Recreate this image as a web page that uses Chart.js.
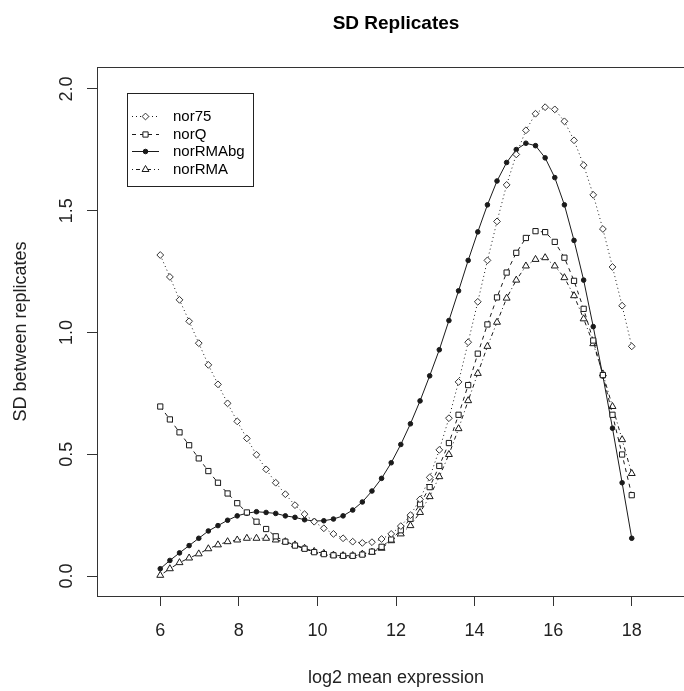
<!DOCTYPE html>
<html>
<head>
<meta charset="utf-8">
<script src="https://cdn.jsdelivr.net/npm/chart.js@4.4.1/dist/chart.umd.min.js"></script>
<style>
  html, body { margin: 0; padding: 0; background: #fff; overflow: hidden; }
  #wrap { position: absolute; left: 0; top: 0; width: 700px; height: 691px; }
</style>
</head>
<body>
<div id="wrap"><canvas id="chart"></canvas></div>
<script>
// x grid: 50 points between 6 and 18
const xValues = [6, 6.245, 6.490, 6.735, 6.980, 7.224, 7.469, 7.714, 7.959, 8.204,
  8.449, 8.694, 8.939, 9.184, 9.429, 9.673, 9.918, 10.163, 10.408, 10.653,
  10.898, 11.143, 11.388, 11.633, 11.878, 12.122, 12.367, 12.612, 12.857, 13.102,
  13.347, 13.592, 13.837, 14.082, 14.327, 14.571, 14.816, 15.061, 15.306, 15.551,
  15.796, 16.041, 16.286, 16.531, 16.776, 17.020, 17.265, 17.510, 17.755, 18];

const nor75 = [1.318, 1.228, 1.134, 1.046, 0.956, 0.867, 0.787, 0.709, 0.635, 0.565,
  0.498, 0.438, 0.383, 0.336, 0.291, 0.254, 0.223, 0.196, 0.173, 0.155,
  0.141, 0.136, 0.139, 0.152, 0.173, 0.205, 0.250, 0.315, 0.405, 0.518,
  0.648, 0.797, 0.960, 1.126, 1.296, 1.456, 1.606, 1.731, 1.830, 1.898,
  1.925, 1.916, 1.867, 1.789, 1.687, 1.565, 1.425, 1.269, 1.110, 0.943];

const norQ = [0.696, 0.643, 0.590, 0.537, 0.483, 0.431, 0.383, 0.339, 0.299, 0.261,
  0.223, 0.193, 0.163, 0.141, 0.125, 0.112, 0.098, 0.090, 0.085, 0.083,
  0.083, 0.088, 0.100, 0.120, 0.150, 0.188, 0.235, 0.295, 0.365, 0.452,
  0.546, 0.662, 0.784, 0.913, 1.033, 1.144, 1.246, 1.327, 1.388, 1.416,
  1.412, 1.372, 1.307, 1.212, 1.097, 0.967, 0.825, 0.662, 0.499, 0.332];

const norRMAbg = [0.030, 0.064, 0.095, 0.125, 0.155, 0.185, 0.207, 0.229, 0.247, 0.258,
  0.264, 0.261, 0.257, 0.247, 0.241, 0.231, 0.226, 0.227, 0.234, 0.247,
  0.271, 0.304, 0.349, 0.401, 0.465, 0.540, 0.625, 0.719, 0.822, 0.929,
  1.049, 1.171, 1.296, 1.413, 1.524, 1.622, 1.698, 1.751, 1.777, 1.767,
  1.717, 1.636, 1.524, 1.378, 1.215, 1.024, 0.821, 0.607, 0.383, 0.155];

const norRMA = [0.003, 0.030, 0.055, 0.074, 0.091, 0.112, 0.128, 0.141, 0.148, 0.155,
  0.155, 0.155, 0.148, 0.141, 0.128, 0.114, 0.101, 0.093, 0.086, 0.084,
  0.084, 0.090, 0.098, 0.114, 0.145, 0.173, 0.207, 0.261, 0.326, 0.408,
  0.499, 0.605, 0.720, 0.832, 0.943, 1.042, 1.141, 1.215, 1.273, 1.300,
  1.307, 1.273, 1.225, 1.151, 1.056, 0.954, 0.830, 0.696, 0.560, 0.421];

const xTicks = [6, 8, 10, 12, 14, 16, 18];
const yTicks = [0, 0.5, 1.0, 1.5, 2.0];

const FONT = '"Liberation Sans", Arial, Helvetica, sans-serif';
const INK = '#1a1a1a';

function pts(ys) {
  return ys.map((y, i) => ({ x: xValues[i], y: y }));
}

// R-style full box around the plot region
const boxPlugin = {
  id: 'box',
  afterDraw(chart) {
    const { ctx, chartArea: a } = chart;
    ctx.save();
    ctx.strokeStyle = '#333';
    ctx.lineWidth = 1;
    ctx.strokeRect(Math.round(a.left) + 0.5, Math.round(a.top) + 0.5,
      Math.round(a.right - a.left), Math.round(a.bottom - a.top));
    ctx.restore();
  }
};

const titlePlugin = {
  id: 'mainTitle',
  afterDraw(chart) {
    const { ctx, chartArea: a } = chart;
    ctx.save();
    ctx.font = 'bold 19px ' + FONT;
    ctx.fillStyle = '#000';
    ctx.textAlign = 'center';
    ctx.textBaseline = 'middle';
    ctx.fillText('SD Replicates', (a.left + a.right) / 2, 24);
    ctx.restore();
  }
};

// legend drawn like R's legend(): line segment with the symbol in the middle
const legendPlugin = {
  id: 'rLegend',
  afterDraw(chart) {
    const ctx = chart.ctx;
    const left = 127, top = 93, w = 126, h = 93;
    ctx.save();
    ctx.fillStyle = '#fff';
    ctx.fillRect(left, top, w, h);
    ctx.strokeStyle = '#222';
    ctx.lineWidth = 1;
    ctx.strokeRect(left + 0.5, top + 0.5, w, h);
    chart.data.datasets.forEach((ds, i) => {
      const y = 116 + i * 17.5;
      ctx.save();
      ctx.strokeStyle = ds.borderColor;
      ctx.lineWidth = 1;
      ctx.setLineDash(ds.borderDash || []);
      ctx.beginPath();
      ctx.moveTo(132, Math.round(y) + 0.5);
      ctx.lineTo(159, Math.round(y) + 0.5);
      ctx.stroke();
      ctx.restore();
      ctx.save();
      ctx.fillStyle = ds.pointBackgroundColor;
      ctx.strokeStyle = ds.pointBorderColor;
      ctx.lineWidth = 1;
      Chart.helpers.drawPoint(ctx, {
        pointStyle: ds.pointStyle, radius: ds.pointRadius, rotation: 0, borderWidth: 1
      }, 145.5, Math.round(y) + 0.5);
      ctx.restore();
      ctx.fillStyle = '#000';
      ctx.font = '15px ' + FONT;
      ctx.textAlign = 'left';
      ctx.textBaseline = 'middle';
      ctx.fillText(ds.label, 173, y + 1);
    });
    ctx.restore();
  }
};

const datasets = [
  {
    label: 'nor75', data: pts(nor75),
    borderColor: INK, borderWidth: 1, borderDash: [1, 3],
    pointStyle: 'rectRot', pointRadius: 3.4,
    pointBorderColor: '#333', pointBackgroundColor: '#fff', pointBorderWidth: 1
  },
  {
    label: 'norQ', data: pts(norQ),
    borderColor: INK, borderWidth: 1, borderDash: [4, 4],
    pointStyle: 'rect', pointRadius: 3.7,
    pointBorderColor: INK, pointBackgroundColor: '#fff', pointBorderWidth: 1
  },
  {
    label: 'norRMAbg', data: pts(norRMAbg),
    borderColor: INK, borderWidth: 1, borderDash: [],
    pointStyle: 'circle', pointRadius: 2.3,
    pointBorderColor: INK, pointBackgroundColor: INK, pointBorderWidth: 1
  },
  {
    label: 'norRMA', data: pts(norRMA),
    borderColor: INK, borderWidth: 1, borderDash: [1, 3, 4, 3],
    pointStyle: 'triangle', pointRadius: 4,
    pointBorderColor: INK, pointBackgroundColor: '#fff', pointBorderWidth: 1
  }
];

new Chart(document.getElementById('chart').getContext('2d'), {
  type: 'line',
  data: { datasets: datasets },
  options: {
    responsive: true,
    maintainAspectRatio: false,
    animation: false,
    layout: { padding: { left: 0, right: 3, top: 67, bottom: 0 } },
    plugins: {
      legend: { display: false },
      tooltip: { enabled: false }
    },
    elements: { line: { tension: 0, fill: false } },
    scales: {
      x: {
        type: 'linear',
        min: 4.39, max: 19.61,
        afterBuildTicks(scale) { scale.ticks = xTicks.map(v => ({ value: v })); },
        afterFit(scale) { scale.height = 95; },
        border: { display: false },
        grid: { drawOnChartArea: false, drawTicks: true, tickLength: 10, color: '#333', tickColor: '#333' },
        ticks: {
          color: '#222', padding: 14, maxRotation: 0, autoSkip: false,
          font: { family: FONT, size: 18 },
          callback: v => String(v)
        },
        title: {
          display: true, text: 'log2 mean expression', color: '#222',
          font: { family: FONT, size: 18 }, padding: { top: 0, bottom: 2 }
        }
      },
      y: {
        type: 'linear',
        min: -0.082, max: 2.09,
        afterBuildTicks(scale) { scale.ticks = yTicks.map(v => ({ value: v })); },
        afterFit(scale) { scale.width = 97; },
        border: { display: false },
        grid: { drawOnChartArea: false, drawTicks: true, tickLength: 10, color: '#333', tickColor: '#333' },
        ticks: {
          color: '#222', padding: 7, minRotation: 90, maxRotation: 90,
          crossAlign: 'center', autoSkip: false,
          font: { family: FONT, size: 18 },
          callback: v => v.toFixed(1)
        },
        title: {
          display: true, text: 'SD between replicates', color: '#222',
          font: { family: FONT, size: 18 }, padding: { top: 10, bottom: 0 }
        }
      }
    }
  },
  plugins: [boxPlugin, titlePlugin, legendPlugin]
});
</script>
</body>
</html>
